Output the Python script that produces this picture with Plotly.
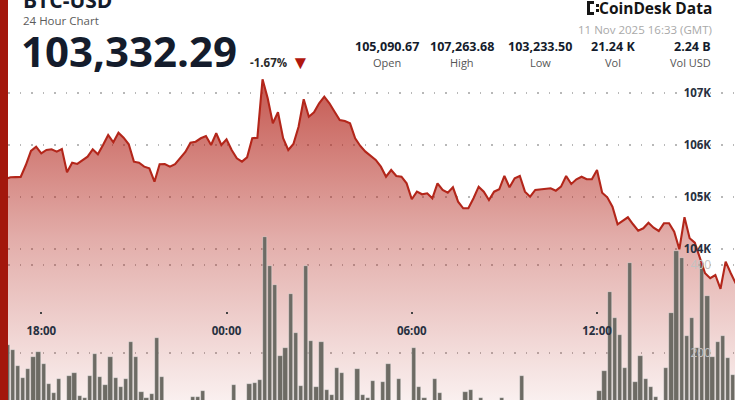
import pandas as pd
import plotly.graph_objects as go

# 10-minute samples, 2025-11-10 16:50 -> 2025-11-11 16:30 (GMT)
times = pd.date_range("2025-11-10 16:50", "2025-11-11 16:30", freq="10min")

prices = [
    105340,
    105379, 105381, 105385, 105615, 105885, 105967,   # 17h
    105840, 105904, 105917, 105871, 105923, 105475,   # 18h
    105660, 105635, 105712, 105775, 105917, 105821,   # 19h
    106000, 106192, 106052, 106237, 106140, 106013,   # 20h
    105679, 105660, 105583, 105552, 105294, 105629,   # 21h
    105635, 105583, 105629, 105756, 105865, 106044,   # 22h
    106063, 106129, 106173, 106000, 106225, 106000,   # 23h
    106110, 105904, 105744, 105679, 105763, 106129,   # 00h
    106140, 107264, 106898, 106417, 106629, 106129,   # 01h
    105904, 106019, 106352, 106879, 106544, 106629,   # 02h
    106802, 106929, 106802, 106640, 106481, 106461,   # 03h
    106417, 106129, 105981, 105871, 105788, 105712,   # 04h
    105583, 105390, 105519, 105404, 105390, 105263,   # 05h
    104956, 105102, 105052, 105071, 104975, 105263,   # 06h
    105135, 105083, 105186, 104910, 104783, 104783,   # 07h
    104975, 105198, 105102, 104942, 105102, 105148,   # 08h
    105404, 105186, 105360, 105404, 105102, 105006,   # 09h
    105135, 105148, 105167, 105167, 105121, 105198,   # 10h
    105404, 105250, 105340, 105390, 105340, 105340,   # 11h
    105519, 105083, 104994, 104813, 104475, 104538,   # 12h
    104610, 104475, 104352, 104398, 104506, 104410,   # 13h
    104346, 104494, 104494, 104333, 103994, 104610,   # 14h
    104206, 104121, 103821, 103533, 103437, 103500,   # 15h
    103234, 103756, 103533, 103332,                   # 16h
]

volumes = [
    218,
    207, 170, 143, 163, 192, 203,
    174, 130, 110, 142, 70, 148,
    154, 102, 97, 148, 197, 146,
    127, 190, 144, 123, 142, 226,
    192, 112, 97, 106, 233, 145,
    60, 75, 55, 80, 70, 101,
    101, 114, 70, 65, 80, 75,
    60, 127, 70, 65, 130, 132,
    139, 463, 398, 355, 193, 211,
    334, 246, 126, 398, 228, 122,
    224, 117, 105, 166, 155, 80,
    70, 164, 105, 98, 137, 75,
    135, 175, 85, 140, 65, 70,
    211, 122, 97, 70, 141, 108,
    80, 60, 75, 85, 112, 117,
    70, 97, 60, 80, 70, 98,
    75, 65, 80, 148, 70, 60,
    75, 65, 80, 70, 85, 60,
    70, 80, 65, 75, 85, 90,
    114, 159, 338, 279, 242, 167,
    404, 135, 193, 142, 123, 99,
    85, 167, 292, 432, 415, 239,
    279, 212, 405, 330, 190, 226,
    239, 188, 150, 160,
]

price_ticks = [104000, 105000, 106000, 107000]
price_tick_labels = ["104K", "105K", "106K", "107K"]
vol_ticks = [200, 400]

stat_values = ["105,090.67", "107,263.68", "103,233.50", "21.24 K", "2.24 B"]
stat_labels = ["Open", "High", "Low", "Vol", "Vol USD"]

W, H = 735, 400
ML = 8
FONT = "Open Sans"
DARK = "#141c2c"
RED = "#b3261a"
GRID = "#b8b8b8"


def px_x(px):
    return (px - ML) / (W - ML)


def px_y(py):
    return 1 - py / H


fig = go.Figure()

# gradient area under the price line
fig.add_trace(go.Scatter(
    x=times, y=prices, mode="lines", yaxis="y",
    line=dict(width=0, color=RED),
    fill="tozeroy",
    fillgradient=dict(
        type="vertical", start=101100, stop=107300,
        colorscale=[[0, "rgba(178,34,24,0.07)"], [0.5, "rgba(178,34,24,0.37)"],
                    [1, "rgba(178,34,24,0.76)"]],
    ),
    hoverinfo="skip", showlegend=False,
))

# volume bars
fig.add_trace(go.Bar(
    x=times, y=volumes, yaxis="y2",
    width=500000, offset=30000,
    marker=dict(color="#6d6b64", line=dict(color="rgba(255,255,255,0.55)", width=0.6)),
    showlegend=False,
))

# price line on top
fig.add_trace(go.Scatter(
    x=times, y=prices, mode="lines", yaxis="y3",
    line=dict(width=2.1, color=RED),
    showlegend=False,
))

price_range = [101096, 108788]

fig.update_layout(
    width=W, height=H,
    margin=dict(l=ML, r=0, t=0, b=0),
    paper_bgcolor="white", plot_bgcolor="white",
    font=dict(family=FONT, color=DARK),
    bargap=0,
    xaxis=dict(
        type="date",
        range=["2025-11-10 16:55:20", "2025-11-11 16:28:10"],
        anchor="free", position=px_y(311),
        tick0="2025-11-10 18:00", dtick=6 * 3600 * 1000,
        tickformat="%H:%M",
        ticks="outside", ticklen=2, tickwidth=2, tickcolor="#444",
        ticklabelstandoff=7,
        showgrid=False, showline=False, zeroline=False,
        tickfont=dict(size=11.5, color="#273040", family=FONT, weight="bold"),
    ),
    yaxis=dict(
        range=price_range, side="right",
        tickvals=price_ticks, ticktext=price_tick_labels,
        ticklabelposition="inside", ticklabelstandoff=21,
        tickfont=dict(size=11.5, color="#273040", family=FONT, weight="bold"),
        showgrid=True, gridcolor=GRID, gridwidth=1.5, griddash="1.5px,10px",
        zeroline=False, showline=False,
    ),
    yaxis2=dict(
        range=[93.2, 1002], overlaying="y", side="right",
        tickvals=vol_ticks,
        ticklabelposition="inside", ticklabelstandoff=21,
        tickfont=dict(size=12, color="#c2c2c2", family=FONT),
        showgrid=True, gridcolor=GRID, gridwidth=1.5, griddash="1.5px,10px",
        zeroline=False, showline=False,
    ),
    yaxis3=dict(
        range=price_range, overlaying="y", side="right",
        showticklabels=False, showgrid=False, zeroline=False, showline=False,
    ),
)

# red stripe on the left edge
fig.add_shape(type="rect", xref="paper", yref="paper",
              x0=px_x(0), x1=px_x(8), y0=0, y1=1,
              fillcolor="#a3170c", line_width=0, layer="above")

annotations = []


def add_text(text, x, y, size, color=DARK, bold=False, anchor="left"):
    annotations.append(dict(
        text=text, xref="paper", yref="paper", x=px_x(x), y=px_y(y),
        xanchor=anchor, yanchor="middle", showarrow=False,
        font=dict(family=FONT, size=size, color=color, weight="bold" if bold else "normal"),
    ))


add_text("BTC-USD", 21, 0, 21, bold=True)
add_text("24 Hour Chart", 21, 20, 11.5, color="#5b5b5b")
add_text("103,332.29", 19, 51, 42, bold=True)
add_text("-1.67%", 248, 62, 11.5, color="#2a2a2a", bold=True)
add_text("▼", 289, 62, 19, color="#b0170e")

stat_centers = [387, 462, 540, 613]
for val, lab, cx in zip(stat_values[:4], stat_labels[:4], stat_centers):
    add_text(val, cx, 46, 12.5, bold=True, anchor="center")
    add_text(lab, cx, 62, 11, color="#555555", anchor="center")
add_text(stat_values[4], 713, 46, 12.5, bold=True, anchor="right")
add_text(stat_labels[4], 713, 62, 11, color="#555555", anchor="right")

add_text("CoinDesk Data", 714, 8, 15.5, color="#151515", bold=True, anchor="right")
add_text("11 Nov 2025 16:33 (GMT)", 714, 29, 11.5, color="#a9a9a9", anchor="right")

fig.update_layout(annotations=annotations)

# small CoinDesk logo mark
for x0, x1, y0, y1 in [(587, 590, 1, 15), (587, 594, 1, 4), (587, 594, 12, 15),
                       (596, 599, 4, 7), (596, 599, 9, 12)]:
    fig.add_shape(type="rect", xref="paper", yref="paper",
                  x0=px_x(x0), x1=px_x(x1), y0=px_y(y1), y1=px_y(y0),
                  fillcolor="#151515", line_width=0, layer="above")

# drop the browser's default 8px body margin so the chart sits at the window corner
fig.write_html("out.html", config={"displayModeBar": False},
               post_script="document.body.style.margin = '0';")
